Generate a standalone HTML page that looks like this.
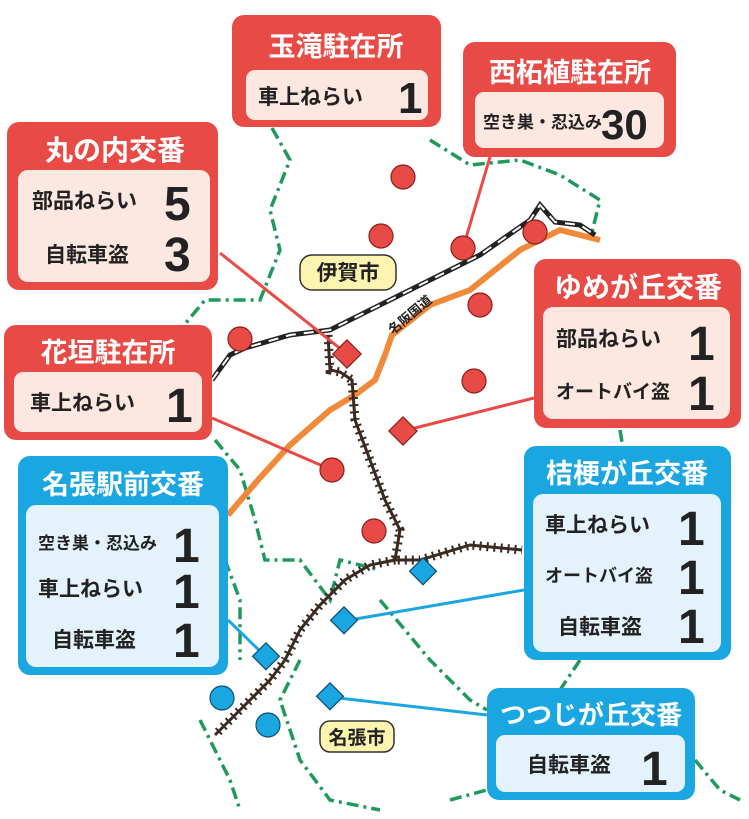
<!DOCTYPE html>
<html><head><meta charset="utf-8"><style>
body{margin:0;background:#fff;}
svg{display:block;font-family:"Liberation Sans","Noto Sans CJK JP",sans-serif;font-weight:bold;}
</style></head><body>
<svg width="749" height="819" viewBox="0 0 749 819" xmlns="http://www.w3.org/2000/svg">
<g fill="none" stroke="#1f9a5a" stroke-width="3.5" stroke-dasharray="12,5,3,5">
<path d="M272 128 L290 160 L270 210 L280 250 L260 300 L205 300 L180 330"/>
<path d="M430 140 L470 165 L520 160 L560 175 L600 200 L590 240"/>
<path d="M620 430 L625 460"/>
<path d="M215 440 L240 470 L255 520 L265 560 L300 560 L330 600 L340 560 L380 570"/>
<path d="M225 560 L240 600 L240 660"/>
<path d="M380 600 L430 660 L470 700 L487 710"/>
<path d="M300 660 L280 700 L300 760 L330 800 L380 810"/>
<path d="M200 720 L230 780 L240 810"/>
<path d="M580 660 L560 690"/>
<path d="M695 760 L720 790 L740 800"/>
<path d="M450 800 L487 790"/>
</g>
<path d="M228 515 L258 480 L290 445 L330 410 L355 395 L375 380 L385 355 L392 335 L430 305 L470 290 L520 250 L560 230 L600 240" fill="none" stroke="#f08a3a" stroke-width="6"/>
<text x="0" y="0" font-size="13" fill="#222" transform="translate(393,335) rotate(-40)">名阪国道</text>
<path d="M212 380 L230 355 L245 348 L290 335 L330 330 L400 295 L460 265 L480 255 L530 220 L540 205 L555 222 L580 225 L595 235" fill="none" stroke="#222" stroke-width="5"/>
<path d="M212 380 L230 355 L245 348 L290 335 L330 330 L400 295 L460 265 L480 255 L530 220 L540 205 L555 222 L580 225 L595 235" fill="none" stroke="#fff" stroke-width="2" stroke-dasharray="10,8"/>
<g fill="none" stroke="#3a2a20">
<path d="M328 335 L330 370 L340 372 L352 380 L355 420 L370 460 L385 500 L400 530 L395 560 L420 560 L470 545 L522 550" stroke-width="3"/>
<path d="M328 335 L330 370 L340 372 L352 380 L355 420 L370 460 L385 500 L400 530 L395 560 L420 560 L470 545 L522 550" stroke-width="9" stroke-dasharray="2,5"/>
<path d="M395 560 L370 565 L345 580 L320 605 L300 630 L285 660 L270 680 L245 705 L215 735" stroke-width="3"/>
<path d="M395 560 L370 565 L345 580 L320 605 L300 630 L285 660 L270 680 L245 705 L215 735" stroke-width="9" stroke-dasharray="2,5"/>
</g>
<g stroke="#e84a46" stroke-width="3">
<line x1="220" y1="253" x2="347" y2="354"/>
<line x1="212" y1="418" x2="332" y2="470"/>
<line x1="490" y1="157" x2="463" y2="248"/>
<line x1="534" y1="398" x2="403" y2="431"/>
</g>
<g stroke="#1aa6e0" stroke-width="3">
<line x1="228" y1="620" x2="266" y2="657"/>
<line x1="524" y1="590" x2="344" y2="621"/>
<line x1="487" y1="715" x2="330" y2="697"/>
</g>
<g fill="#e84a46" stroke="#8a1f1c" stroke-width="1.2">
<circle cx="403" cy="177" r="12"/><circle cx="381" cy="236" r="12"/><circle cx="463" cy="248" r="12"/><circle cx="535" cy="232" r="12"/><circle cx="480" cy="305" r="12"/><circle cx="474" cy="381" r="12"/><circle cx="240" cy="339" r="12"/><circle cx="332" cy="470" r="12"/><circle cx="374" cy="531" r="12"/>
<rect x="337" y="344" width="20" height="20" transform="rotate(45 347 354)"/>
<rect x="393" y="421" width="20" height="20" transform="rotate(45 403 431)"/>
</g>
<g fill="#1aa6e0" stroke="#0d4f70" stroke-width="1.2">
<rect x="413" y="562" width="19" height="19" transform="rotate(45 423 572)"/>
<rect x="334" y="611" width="19" height="19" transform="rotate(45 344 621)"/>
<rect x="256" y="647" width="19" height="19" transform="rotate(45 266 657)"/>
<rect x="320" y="687" width="19" height="19" transform="rotate(45 330 697)"/>
<circle cx="222" cy="698" r="12"/><circle cx="268" cy="725" r="12"/>
</g>
<rect x="300" y="255" width="96" height="35" rx="12" fill="#fdf4b0" stroke="#333" stroke-width="1.5"/>
<text x="348" y="280" font-size="21" text-anchor="middle" fill="#222">伊賀市</text>
<rect x="320" y="721" width="74" height="31" rx="10" fill="#fdf4b0" stroke="#333" stroke-width="1.5"/>
<text x="357" y="744" font-size="19" text-anchor="middle" fill="#222">名張市</text>

<g fill="#222">
<rect x="232" y="15" width="209" height="112" rx="12" fill="#e84a46"/>
<rect x="246" y="70" width="182" height="50" rx="9" fill="#fde7e1"/>
<text x="336" y="56" font-size="27" fill="#fff" text-anchor="middle">玉滝駐在所</text>
<text x="258" y="104" font-size="21">車上ねらい</text><text x="398" y="113" font-size="44">1</text>
<rect x="463" y="42" width="213" height="115" rx="12" fill="#e84a46"/>
<rect x="475" y="92" width="189" height="56" rx="9" fill="#fde7e1"/>
<text x="570" y="82" font-size="27" fill="#fff" text-anchor="middle">西柘植駐在所</text>
<text x="483" y="128" font-size="17">空き巣・忍込み</text><text x="601" y="139" font-size="42">30</text>
<rect x="7" y="122" width="211" height="168" rx="12" fill="#e84a46"/>
<rect x="18" y="170" width="192" height="112" rx="10" fill="#fde7e1"/>
<text x="115" y="160" font-size="28" fill="#fff" text-anchor="middle">丸の内交番</text>
<text x="32" y="208" font-size="21">部品ねらい</text><text x="164" y="220" font-size="48">5</text>
<text x="45" y="262" font-size="21">自転車盗</text><text x="164" y="271" font-size="48">3</text>
<rect x="534" y="259" width="207" height="169" rx="12" fill="#e84a46"/>
<rect x="543" y="307" width="187" height="112" rx="10" fill="#fde7e1"/>
<text x="638" y="297" font-size="28" fill="#fff" text-anchor="middle">ゆめが丘交番</text>
<text x="556" y="346" font-size="21">部品ねらい</text><text x="688" y="360" font-size="48">1</text>
<text x="556" y="398" font-size="19">オートバイ盗</text><text x="688" y="410" font-size="48">1</text>
<rect x="4" y="325" width="208" height="115" rx="12" fill="#e84a46"/>
<rect x="14" y="372" width="188" height="60" rx="9" fill="#fde7e1"/>
<text x="108" y="362" font-size="27" fill="#fff" text-anchor="middle">花垣駐在所</text>
<text x="30" y="410" font-size="21">車上ねらい</text><text x="166" y="422" font-size="48">1</text>
<rect x="18" y="456" width="210" height="219" rx="12" fill="#1aa6e0"/>
<rect x="26" y="505" width="193" height="162" rx="10" fill="#e4f3fb"/>
<text x="123" y="494" font-size="27" fill="#fff" text-anchor="middle">名張駅前交番</text>
<text x="38" y="549" font-size="17">空き巣・忍込み</text><text x="173" y="562" font-size="48">1</text>
<text x="38" y="596" font-size="21">車上ねらい</text><text x="173" y="608" font-size="48">1</text>
<text x="52" y="647" font-size="21">自転車盗</text><text x="173" y="657" font-size="48">1</text>
<rect x="524" y="446" width="207" height="214" rx="12" fill="#1aa6e0"/>
<rect x="533" y="494" width="188" height="158" rx="10" fill="#e4f3fb"/>
<text x="627" y="483" font-size="27" fill="#fff" text-anchor="middle">桔梗が丘交番</text>
<text x="545" y="532" font-size="21">車上ねらい</text><text x="678" y="545" font-size="48">1</text>
<text x="545" y="582" font-size="18">オートバイ盗</text><text x="678" y="594" font-size="48">1</text>
<text x="558" y="634" font-size="21">自転車盗</text><text x="678" y="643" font-size="48">1</text>
<rect x="487" y="688" width="208" height="112" rx="12" fill="#1aa6e0"/>
<rect x="496" y="735" width="189" height="57" rx="9" fill="#e4f3fb"/>
<text x="591" y="724" font-size="26" fill="#fff" text-anchor="middle">つつじが丘交番</text>
<text x="527" y="772" font-size="21">自転車盗</text><text x="641" y="785" font-size="48">1</text>
</g>
</svg>
</body></html>
